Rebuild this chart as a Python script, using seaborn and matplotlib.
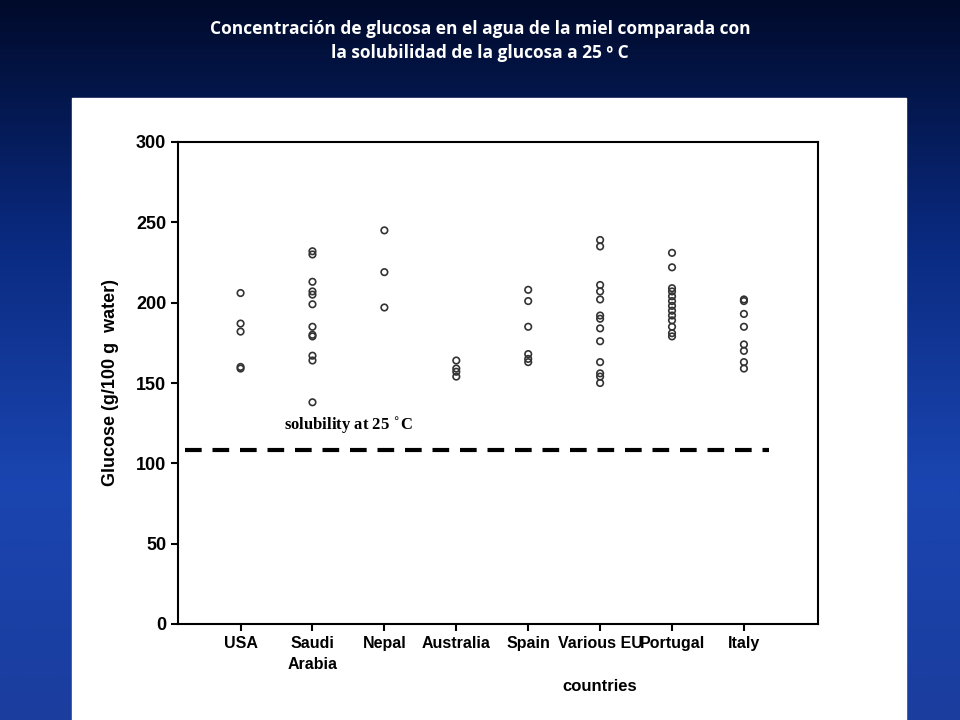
import numpy as np
import pandas as pd
import matplotlib
matplotlib.use("Agg")
import matplotlib.pyplot as plt
import seaborn as sns

categories = ["USA", "Saudi Arabia", "Nepal", "Australia", "Spain", "Various EU", "Portugal", "Italy"]
tick_labels = ["USA\n", "Saudi\nArabia", "Nepal", "Australia", "Spain", "Various EU\n", "Portugal", "Italy"]
usa = [206, 187, 182, 160, 159]
saudi = [232, 230, 213, 207, 205, 199, 185, 180, 179, 167, 164, 138]
nepal = [245, 219, 197]
australia = [164, 159, 157, 154]
spain = [208, 201, 185, 168, 165, 163]
various_eu = [239, 235, 211, 207, 202, 192, 190, 184, 176, 163, 156, 154, 150]
portugal = [231, 222, 209, 207, 204, 201, 198, 195, 192, 189, 185, 181, 179]
italy = [202, 201, 193, 185, 174, 170, 163, 159]
solubility = 108

series = [usa, saudi, nepal, australia, spain, various_eu, portugal, italy]
df = pd.DataFrame({"country": [c for c, s in zip(categories, series) for _ in s],
                   "glucose": [v for s in series for v in s]})
df["xi"] = df["country"].map({c: i for i, c in enumerate(categories)})

fig = plt.figure(figsize=(9.6, 7.2), dpi=100)
bg = fig.add_axes([0, 0, 1, 1])
grad = np.linspace(0, 1, 256).reshape(-1, 1)
cmap = matplotlib.colors.LinearSegmentedColormap.from_list("bg", ["#000a2a", "#0a2a80", "#1a45b0", "#1a3d9e"])
bg.imshow(grad, aspect="auto", cmap=cmap, extent=[0, 1, 0, 1], origin="upper")
bg.add_patch(plt.Rectangle((72/960, 0), (906-72)/960, (720-98)/720, color="white", transform=bg.transAxes))
bg.axis("off")
fig.text(0.5, 0.972, "Concentración de glucosa en el agua de la miel comparada con\nla solubilidad de la glucosa a 25 º C",
         ha="center", va="top", color="white", fontsize=12.5, fontweight="bold", family="Open Sans", linespacing=1.45)

ax = fig.add_axes([178/960, 96/720, 640/960, 482/720])
sns.scatterplot(data=df, x="xi", y="glucose", ax=ax, marker="o", s=22,
                facecolors="none", edgecolor="#333333", linewidth=1.2, legend=False)
ax.plot([-0.77, 7.35], [solubility, solubility], ls=(0, (4, 2.6)), color="black", lw=3)
ax.text(0.6, solubility + 9, "solubility at 25 $^{\\circ}$C", fontsize=12, fontweight="bold",
        family="Liberation Serif", ha="left", va="bottom")
ax.set_xlim(-0.87, 8.03)
ax.set_ylim(0, 300)
ax.set_yticks(range(0, 301, 50))
ax.set_xticks(range(len(categories)))
ax.set_xticklabels(tick_labels, fontsize=11.5, fontweight="bold", family="Liberation Sans", linespacing=1.5)
for t in ax.get_yticklabels():
    t.set_fontsize(13); t.set_fontweight("bold"); t.set_family("Liberation Sans")
ax.tick_params(axis="both", direction="out", length=5, width=1.5)
ax.set_xlabel("")
ax.set_ylabel("Glucose (g/100 g  water)", fontsize=13, fontweight="bold", family="Liberation Sans", labelpad=12)
for s in ax.spines.values():
    s.set_linewidth(1.5)
ax.text(5, -0.115, "countries", transform=ax.get_xaxis_transform(), ha="center", va="top",
        fontsize=12, fontweight="bold", family="Liberation Sans")
fig.savefig("out.png", dpi=100)
